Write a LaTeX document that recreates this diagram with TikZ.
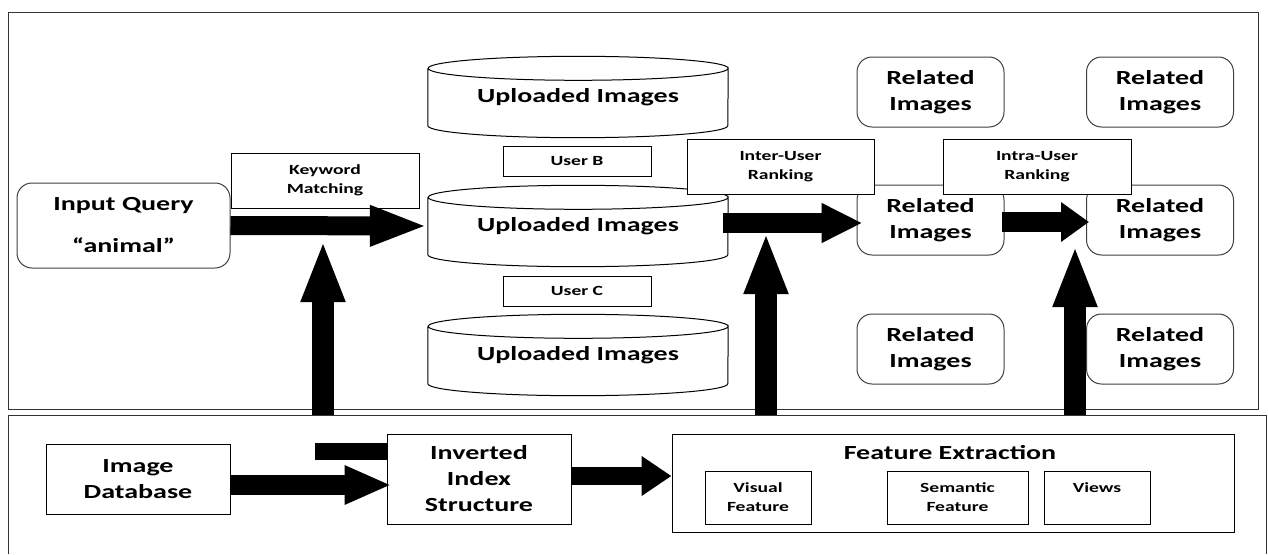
\documentclass[tikz,border=0pt]{standalone}
\usepackage{fontspec}
\newfontfamily\calfont{Carlito}[FakeStretch=1.4]
\usetikzlibrary{arrows.meta,calc}
\tikzset{
  big/.style={font=\calfont\bfseries\fontsize{20}{26}\selectfont},
  small/.style={font=\calfont\bfseries\fontsize{14}{19}\selectfont},
  box/.style={draw,line width=1pt,inner sep=0pt,align=center,fill=white},
  roundbox/.style={box,draw=black!75,rounded corners=15pt},
  fat/.style n args={3}{line width=#1,-{Triangle[length=#2,width=#3]}}
}
\begin{document}
\begin{tikzpicture}[x=1pt,y=-1pt]
	\useasboundingbox (0,0) rectangle (1268,554);
	% the two panels
	\draw[line width=1pt,black!80] (8,12) rectangle (1258,409);
	\draw[line width=1pt,black!80] (8,554) -- (8,415) -- (1266,415) -- (1266,554);
	
	% upper panel
	\node[roundbox,big,minimum width=213pt,minimum height=85pt] (query) at (123.5,225.5) {Input Query\\[16pt]“animal”};
	\node[box,small,minimum width=188pt,minimum height=55pt] (keyword) at (325,180.5) {Keyword\\Matching};
	\foreach \n/\y in {up1/97,up2/226,up3/355}{
		\node[big,minimum width=300pt,minimum height=57pt,inner sep=0pt] (\n) at (578,\y) {Uploaded Images};
		\draw[line width=1pt] (\n.north west) -- (\n.south west)
		arc[start angle=180,end angle=0,x radius=150,y radius=12] -- (\n.north east)
		arc[start angle=0,end angle=360,x radius=150,y radius=12];
	}
	\node[box,small,minimum width=148pt,minimum height=30pt] (userB) at (577,161) {User B};
	\node[box,small,minimum width=148pt,minimum height=30pt] (userC) at (577,291) {User C};
	\foreach \c/\x in {1/930.5,2/1160}
	\foreach \r/\y in {1/92,2/220,3/349}
	\node[roundbox,big,minimum width=147pt,minimum height=70pt] (rel\r\c) at (\x,\y) {Related\\Images};
	\node[box,small,minimum width=187pt,minimum height=55pt] (inter) at (780.5,166.5) {Inter-User\\Ranking};
	\node[box,small,minimum width=188pt,minimum height=55pt] (intra) at (1037,166.5) {Intra-User\\Ranking};
	
	% lower panel
	\node[box,big,minimum width=184pt,minimum height=70pt] (imgdb) at (138,479) {Image\\Database};
	\node[box,big,minimum width=184pt,minimum height=90pt] (index) at (479,479) {Inverted\\Index\\Structure};
	\node[box,minimum width=562pt,minimum height=98pt] (feat) at (953,483) {};
	\node[big] (feattitle) at (950,453) {Feature Extraction};
	\node[box,small,minimum width=106pt,minimum height=53pt] (visual) at (758,497.5) {Visual\\Feature};
	\node[box,small,minimum width=141pt,minimum height=53pt] (semantic) at (957.5,497.5) {Semantic\\Feature};
	\node[box,small,minimum width=106pt,minimum height=53pt] (views) at (1097,497.5) {Views\\~};
	
	% arrows
	\path (323,415) coordinate (b1) (323,240) coordinate (t1)
	(766,415) coordinate (b2) (766,232) coordinate (t2)
	(1075,415) coordinate (b3) (1075,245) coordinate (t3)
	(315,451) coordinate (bar);
	\draw[fat={19pt}{58pt}{37pt}] (query.east) -- (up2.west);
	\draw[fat={20pt}{41pt}{37pt}] ($(up2.east)+(-5,-3)$) -- ($(rel21.west)+(6,3)$);
	\draw[fat={20pt}{28pt}{38pt}] ($(rel21.east)+(-3,2)$) -- ($(rel22.west)+(3,2)$);
	\foreach \i in {1,2,3}
	\draw[fat={22pt}{62pt}{40pt}] (b\i) -- (t\i);
	\draw[fat={20pt}{47pt}{36pt}] ($(imgdb.east)+(0,6)$) -- ($(index.west)+(5,6)$);
	\draw[fat={18pt}{30pt}{38pt}] ($(index.east)+(0,-3)$) -- ($(feat.west)+(0,-7)$);
	\draw[line width=17pt] ($(index.west)+(0,-28)$) -- (bar);
\end{tikzpicture}
\end{document}
